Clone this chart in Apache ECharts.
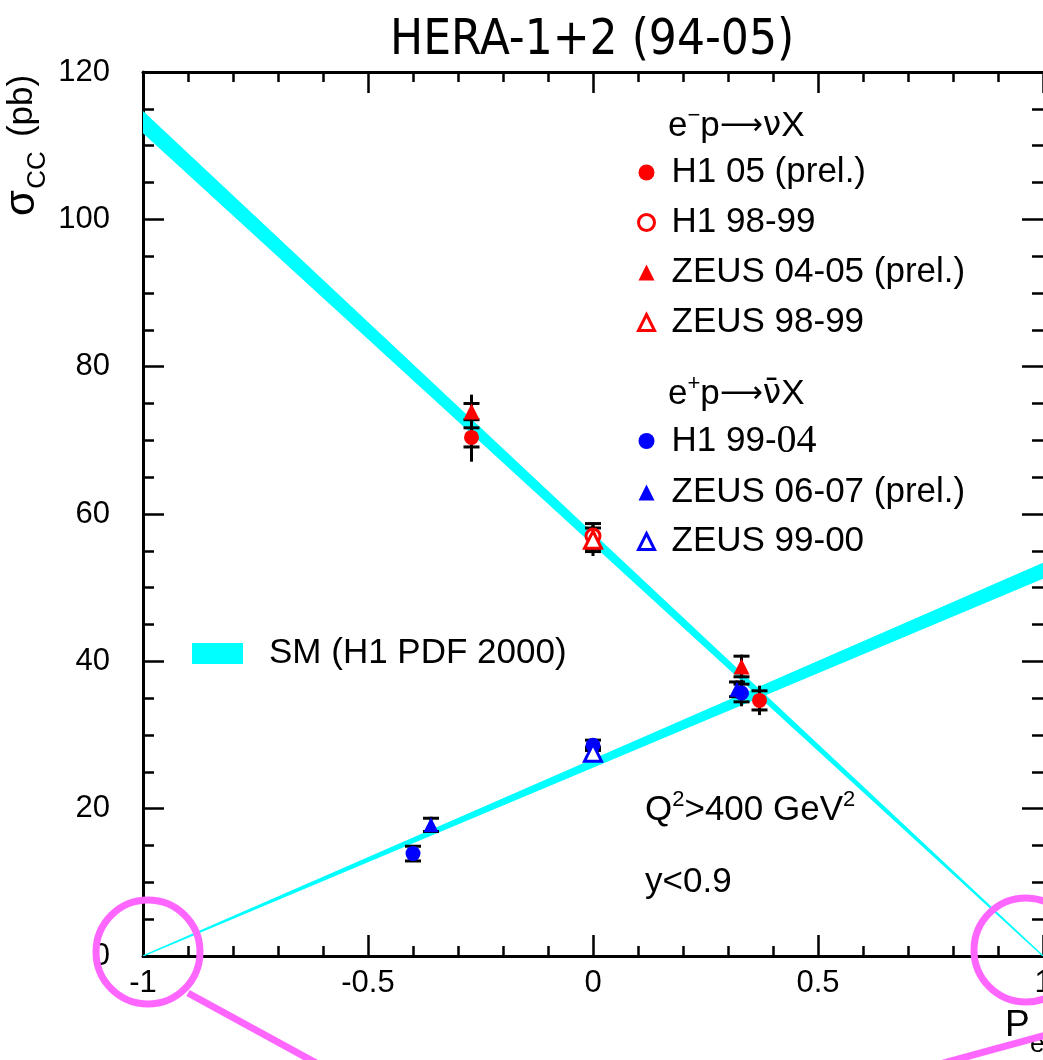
<!DOCTYPE html>
<html>
<head>
<meta charset="utf-8">
<script src="https://cdn.jsdelivr.net/npm/echarts@6/dist/echarts.min.js"></script>
<style>
html,body{margin:0;padding:0;background:#fff;}
#chart{width:1043px;height:1060px;}
</style>
</head>
<body>
<div id="chart"></div>
<script>
// ---------- data ----------
const xTickValues = [-1, -0.5, 0, 0.5, 1];
const yTickValues = [0, 20, 40, 60, 80, 100, 120];

// SM bands (H1 PDF 2000): polarisation end points, lower and upper edges
const bandEmX = [-1, 1];
const bandEmLow = [111.8, 0];
const bandEmHigh = [114.6, 0];
const bandEpX = [-1, 1];
const bandEpLow = [0, 51.3];
const bandEpHigh = [0, 53.3];

// e- p -> nu X
const h105P = [-0.27, 0.37];
const h105V = [70.4, 34.7];
const h105Stat = [1.3, 1.3];
const h105Tot = [3.3, 2.0];

const h19899P = [0];
const h19899V = [57.0];
const h19899Stat = [1.7];
const h19899Tot = [1.7];

const z0405P = [-0.27, 0.33];
const z0405V = [73.9, 39.3];
const z0405Stat = [1.1, 1.4];
const z0405Tot = [2.3, 1.6];

const z9899P = [0];
const z9899V = [56.5];
const z9899Stat = [1.6];
const z9899Tot = [2.2];

// e+ p -> nubar X
const h19904P = [-0.40, 0, 0.33];
const h19904V = [13.9, 28.6, 35.7];
const h19904Stat = [1.0, 0.7, 1.2];
const h19904Tot = [1.1, 0.8, 1.8];

const z0607P = [-0.36, 0.32];
const z0607V = [17.8, 36.2];
const z0607Stat = [0.9, 1.0];
const z0607Tot = [1.1, 1.2];

const z9900P = [0];
const z9900V = [27.6];
const z9900Stat = [0.7];
const z9900Tot = [0.8];

// ---------- helpers ----------
const FONT = 'Liberation Sans, Arial, Helvetica, sans-serif';
const SERIF = 'Liberation Serif, Times New Roman, serif';
const pts = (p, v) => p.map((x, i) => [x, v[i]]);
const errs = (p, v, s, t) => p.map((x, i) => [x, v[i], s[i], t[i]]);

const errorData = [].concat(
  errs(h105P, h105V, h105Stat, h105Tot),
  errs(h19899P, h19899V, h19899Stat, h19899Tot),
  errs(z0405P, z0405V, z0405Stat, z0405Tot),
  errs(z9899P, z9899V, z9899Stat, z9899Tot),
  errs(h19904P, h19904V, h19904Stat, h19904Tot),
  errs(z0607P, z0607V, z0607Stat, z0607Tot),
  errs(z9900P, z9900V, z9900Stat, z9900Tot)
);

const bandData = [
  [bandEmX[0], bandEmLow[0], bandEmHigh[0], bandEmX[1], bandEmLow[1], bandEmHigh[1]],
  [bandEpX[0], bandEpLow[0], bandEpHigh[0], bandEpX[1], bandEpLow[1], bandEpHigh[1]]
];

function renderBand(params, api) {
  const x0 = api.value(0), l0 = api.value(1), h0 = api.value(2);
  const x1 = api.value(3), l1 = api.value(4), h1 = api.value(5);
  const points = [api.coord([x0, l0]), api.coord([x1, l1]), api.coord([x1, h1]), api.coord([x0, h0])];
  return {
    type: 'polygon',
    shape: { points: points },
    style: { fill: '#00ffff', stroke: '#00ffff', lineWidth: 1.3 }
  };
}

function renderErr(params, api) {
  const x = api.value(0), y = api.value(1), s = api.value(2), t = api.value(3);
  const a = api.coord([x, y - t]), b = api.coord([x, y + t]);
  const c1 = api.coord([x, y - s]), c2 = api.coord([x, y + s]);
  const w = 8;
  const st = () => ({ stroke: '#000', lineWidth: 3 });
  return {
    type: 'group',
    children: [
      { type: 'line', shape: { x1: a[0], y1: a[1], x2: b[0], y2: b[1] }, style: st() },
      { type: 'line', shape: { x1: c1[0] - w, y1: c1[1], x2: c1[0] + w, y2: c1[1] }, style: st() },
      { type: 'line', shape: { x1: c2[0] - w, y1: c2[1], x2: c2[0] + w, y2: c2[1] }, style: st() }
    ]
  };
}

const axisCommonX = {
  type: 'value', min: -1, max: 1, interval: 0.5,
  splitLine: { show: false },
  axisLine: { show: true, onZero: false, lineStyle: { color: '#000', width: 3 } },
  axisTick: { show: true, inside: true, length: 21, lineStyle: { color: '#000', width: 2.5 } },
  minorTick: { show: true, splitNumber: 5, length: 10, lineStyle: { color: '#000', width: 2.5 } }
};
const axisCommonY = {
  type: 'value', min: 0, max: 120, interval: 20,
  splitLine: { show: false },
  axisLine: { show: true, onZero: false, lineStyle: { color: '#000', width: 3 } },
  axisTick: { show: true, inside: true, length: 21, lineStyle: { color: '#000', width: 2.5 } },
  minorTick: { show: true, splitNumber: 4, length: 11, lineStyle: { color: '#000', width: 2.5 } }
};

const RED = '#ff0000', BLUE = '#0000ff';
function scatter(name, data, symbol, color, size, empty) {
  return {
    type: 'scatter', name: name, data: data, symbol: symbol, symbolSize: size, z: 5,
    itemStyle: empty ? { color: '#fff', borderColor: color, borderWidth: 3, opacity: 1 } : { color: color, opacity: 1 },
    emphasis: { disabled: true }
  };
}

const LF = 35;
const serifRich = { sf: { fontFamily: SERIF, fontSize: 40, color: '#000', lineHeight: 33 } };
const legendText = { fontFamily: FONT, fontSize: LF, lineHeight: 33, color: '#000', padding: [0, 0, 0, 12], rich: serifRich };
const MAG = '#ff66ff';
const emptyLegend = (name, color) => ({ name: name, itemStyle: { color: '#fff', borderColor: color, borderWidth: 3, opacity: 1 } });
const headRich = {
  a: { fontFamily: FONT, fontSize: LF, lineHeight: 42 },
  s: { fontFamily: FONT, fontSize: 22, verticalAlign: 'top', lineHeight: 42 },
  r: { fontFamily: 'DejaVu Sans, sans-serif', fontSize: 30, lineHeight: 42 },
  n: { fontFamily: 'DejaVu Sans, sans-serif', fontSize: 33, lineHeight: 42 }
};

const option = {
  animation: false,
  backgroundColor: '#fff',
  title: {
    text: 'HERA-1+2 (94-05)', left: 385, top: 12,
    textStyle: { fontFamily: 'DejaVu Sans Condensed, DejaVu Sans, sans-serif', fontSize: 49, fontWeight: 'normal', color: '#000' }
  },
  grid: { left: 143, right: 0, top: 72, bottom: 104, outerBoundsMode: 'none', containLabel: false },
  xAxis: [
    Object.assign({}, axisCommonX, {
      position: 'bottom',
      axisLabel: { show: true, fontFamily: FONT, fontSize: 31, color: '#000', margin: 12,
        customValues: xTickValues }
    }),
    Object.assign({}, axisCommonX, { position: 'top', axisLabel: { show: false } })
  ],
  yAxis: [
    Object.assign({}, axisCommonY, {
      position: 'left',
      axisLabel: { show: true, fontFamily: FONT, fontSize: 31, color: '#000', margin: 33,
        customValues: yTickValues }
    }),
    Object.assign({}, axisCommonY, { position: 'right', axisLine: { show: false, onZero: false }, axisLabel: { show: false } })
  ],
  legend: [
    {
      data: ['H1 05 (prel.)', emptyLegend('H1 98-99', RED), 'ZEUS 04-05 (prel.)', emptyLegend('ZEUS 98-99', RED)],
      orient: 'vertical', left: 637, top: 155, padding: 0, itemGap: 15,
      itemWidth: 16, itemHeight: 16, selectedMode: false, textStyle: legendText
    },
    {
      data: [
        { name: 'H1 99-04', textStyle: { rich: serifRich } },
        'ZEUS 06-07 (prel.)',
        emptyLegend('ZEUS 99-00', BLUE)
      ],
      orient: 'vertical', left: 637, top: 421, padding: 0, itemGap: 14,
      itemWidth: 16, itemHeight: 16, selectedMode: false,
      formatter: function (n) { return n === 'H1 99-04' ? 'H1 99-{sf|04}' : n; },
      textStyle: legendText
    },
    {
      data: [{ name: 'SM (H1 PDF 2000)', icon: 'rect' }],
      orient: 'vertical', left: 192, top: 636, padding: 0,
      itemWidth: 51, itemHeight: 21, selectedMode: false,
      textStyle: Object.assign({}, legendText, { padding: [0, 0, 0, 21] })
    }
  ],
  series: [
    {
      type: 'custom', name: 'SM (H1 PDF 2000)', renderItem: renderBand, data: bandData,
      encode: { x: [0, 3], y: [1, 2, 4, 5] }, itemStyle: { color: '#00ffff' }, z: 2, clip: true,
      silent: true
    },
    {
      type: 'custom', name: 'errors', renderItem: renderErr, data: errorData,
      encode: { x: 0, y: 1 }, z: 3, silent: true
    },
    scatter('H1 05 (prel.)', pts(h105P, h105V), 'circle', RED, 15, false),
    scatter('H1 98-99', pts(h19899P, h19899V), 'circle', RED, 14, true),
    scatter('ZEUS 04-05 (prel.)', pts(z0405P, z0405V), 'triangle', RED, 16, false),
    scatter('ZEUS 98-99', pts(z9899P, z9899V), 'triangle', RED, 17, true),
    scatter('H1 99-04', pts(h19904P, h19904V), 'circle', BLUE, 15, false),
    scatter('ZEUS 06-07 (prel.)', pts(z0607P, z0607V), 'triangle', BLUE, 15, false),
    scatter('ZEUS 99-00', pts(z9900P, z9900V), 'triangle', BLUE, 17, true)
  ],
  graphic: [
    // y axis title (rotated)
    { type: 'text', x: 22, y: 203, rotation: Math.PI / 2,
      style: { text: 'σ', font: '42px ' + FONT, fill: '#000', align: 'center', verticalAlign: 'middle' } },
    { type: 'text', x: 38, y: 170, rotation: Math.PI / 2,
      style: { text: 'CC', font: '26px ' + FONT, fill: '#000', align: 'center', verticalAlign: 'middle' } },
    { type: 'text', x: 22, y: 106, rotation: Math.PI / 2,
      style: { text: '(pb)', font: '35px ' + FONT, fill: '#000', align: 'center', verticalAlign: 'middle' } },
    // legend headers
    { type: 'text', x: 668, y: 126,
      style: { text: '{a|e}{s|−}{a|p}{r|⟶}{n|ν}{a|X}', fill: '#000', verticalAlign: 'middle', rich: headRich } },
    { type: 'text', x: 668, y: 394,
      style: { text: '{a|e}{s|+}{a|p}{r|⟶}{n|ν̄}{a|X}', fill: '#000', verticalAlign: 'middle', rich: headRich } },
    // cuts
    { type: 'text', x: 645, y: 810,
      style: { text: '{a|Q}{s|2}{a|>400 GeV}{s|2}', fill: '#000', verticalAlign: 'middle', rich: headRich } },
    { type: 'text', x: 645, y: 882,
      style: { text: 'y<0.9', font: LF + 'px ' + FONT, fill: '#000', verticalAlign: 'middle' } },
    // x axis title (partly off page)
    { type: 'text', x: 1005, y: 1044,
      style: { text: 'P', font: '37px ' + FONT, fill: '#000', verticalAlign: 'bottom' } },
    { type: 'text', x: 1030, y: 1058,
      style: { text: 'e', font: '26px ' + FONT, fill: '#000', verticalAlign: 'bottom' } },
    // magenta annotation circles and lines
    { type: 'circle', shape: { cx: 148, cy: 952, r: 52 }, style: { fill: 'none', stroke: MAG, lineWidth: 7 }, z: 100 },
    { type: 'circle', shape: { cx: 1026, cy: 950, r: 52 }, style: { fill: 'none', stroke: MAG, lineWidth: 7 }, z: 100 },
    { type: 'line', shape: { x1: 188, y1: 993, x2: 318, y2: 1064 }, style: { stroke: MAG, lineWidth: 7 }, z: 100 },
    { type: 'line', shape: { x1: 1046, y1: 1035, x2: 940, y2: 1064 }, style: { stroke: MAG, lineWidth: 7 }, z: 100 }
  ]
};

const chart = echarts.init(document.getElementById('chart'), null, { renderer: 'canvas' });
chart.setOption(option);
</script>
</body>
</html>
